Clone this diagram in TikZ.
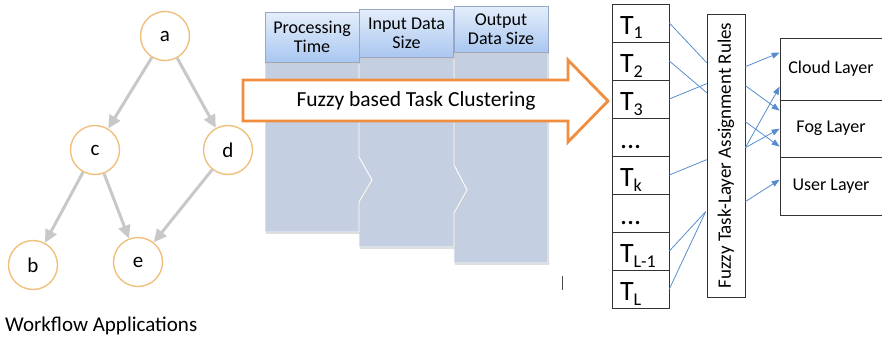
\documentclass[tikz,border=0pt]{standalone}
\usepackage{fontspec}
\setmainfont{Carlito}
\usetikzlibrary{arrows.meta,calc}

\definecolor{ringorange}{RGB}{240,192,125}
\definecolor{edgegray}{RGB}{200,200,200}
\definecolor{bigorange}{RGB}{241,141,62}
\definecolor{colbody}{RGB}{196,207,226}
\definecolor{hdrtop}{RGB}{228,238,251}
\definecolor{hdrbot}{RGB}{170,199,240}
\definecolor{hdrline}{RGB}{150,168,198}
\definecolor{linkblue}{RGB}{88,140,205}
\definecolor{softshadow}{RGB}{205,205,205}

\tikzset{
  task/.style={circle, draw=ringorange, line width=1.4pt, fill=white,
    minimum size=49pt, inner sep=0pt, font=\fontsize{21}{21}\selectfont},
  flow/.style={draw=edgegray, line width=3pt,
    -{Triangle[length=13pt,width=12pt]}},
  softdrop/.style={preaction={fill=softshadow, draw=none,
    transform canvas={shift={(1pt,-1.6pt)}}}},
  colshape/.style={softdrop, fill=colbody, draw=white, line width=0.8pt},
  hdr/.style={softdrop, draw=hdrline, line width=0.5pt, top color=hdrtop,
    bottom color=hdrbot, minimum width=94pt, inner sep=0pt, align=center,
    font=\fontsize{18}{19}\selectfont},
  tcell/.style={draw=black!80, line width=0.7pt, minimum width=57pt, minimum height=38pt,
    text width=41pt, inner xsep=8pt, inner ysep=6pt, text height=24pt, text depth=2pt,
    align=left, font=\fontsize{28}{28}\selectfont},
  layerbox/.style={draw=black!80, line width=0.7pt, minimum width=102pt, inner sep=0pt,
    font=\fontsize{18}{18}\selectfont},
  link/.style={draw=linkblue, line width=0.8pt},
  linkarrow/.style={link, -{Triangle[length=8pt,width=6pt]}},
}
\newcommand{\tsub}[1]{\raisebox{-5pt}{\fontsize{18}{18}\selectfont #1}}

\begin{document}
\begin{tikzpicture}[x=1pt,y=-1pt]
\useasboundingbox (0,0) rectangle (882,340);

% ---- workflow graph ----
\node[task] (a) at (165,36) {a};
\node[task] (c) at (95,150) {c};
\node[task] (d) at (228,150) {d};
\node[task] (b) at (33,265) {b};
\node[task] (e) at (138,262) {e};
\draw[flow] (a) -- (c);
\draw[flow] (a) -- (d);
\draw[flow] (c) -- (b);
\draw[flow] (c) -- (e);
\draw[flow] (d) -- (e);
\node[anchor=base west, inner sep=0pt, font=\fontsize{21}{21}\selectfont]
  (wfa) at (5,331) {Workflow Applications};

% ---- attribute columns ----
\path[colshape] (454,52) -- (548,52) -- (548,263) -- (454,263) -- (454,213)
  -- (467,190) -- (454,165) -- cycle;
\path[colshape] (359,57) -- (454,57) -- (454,165) -- (467,190) -- (454,213)
  -- (454,247) -- (359,247) -- (359,202) -- (372,180) -- (359,157) -- cycle;
\path[colshape] (265,62) -- (359,62) -- (359,157) -- (372,180) -- (359,202)
  -- (359,232) -- (265,232) -- cycle;
\node[hdr, minimum height=50pt] (h1) at (312,37) {Processing\\Time};
\node[hdr, minimum height=48pt] (h2) at (406.5,33) {Input Data\\Size};
\node[hdr, minimum height=46pt] (h3) at (501,29) {Output\\Data Size};

% ---- clustering arrow ----
\draw[bigorange, line width=2.8pt, fill=white, line join=miter]
  (243,80) -- (568,80) -- (568,60) -- (608,101) -- (568,142) -- (568,121)
  -- (243,121) -- cycle;
\node[font=\fontsize{21.5}{21.5}\selectfont] (cluster) at (416,101)
  {Fuzzy based Task Clustering};

% small text cursor mark
\draw[black!70, line width=0.9pt] (562,276) -- (562,290);

% ---- task list ----
\node[tcell] (t1)  at (640.5,23)  {T\tsub{1}};
\node[tcell] (t2)  at (640.5,61)  {T\tsub{2}};
\node[tcell] (t3)  at (640.5,99)  {T\tsub{3}};
\node[tcell] (td1) at (640.5,137) {...};
\node[tcell] (tk)  at (640.5,175) {T\tsub{k}};
\node[tcell] (td2) at (640.5,213) {...};
\node[tcell] (tl1) at (640.5,251) {T\tsub{L-1}};
\node[tcell] (tl)  at (640.5,289) {T\tsub{L}};

% ---- assignment rules (rotated: north east is the top-left corner) ----
\node[draw=black!80, line width=0.7pt, rotate=90, minimum width=283pt,
  minimum height=38pt, inner sep=0pt, font=\fontsize{19}{19}\selectfont]
  (rules) at (726,155.5) {Fuzzy Task-Layer Assignment Rules};

% ---- layers ----
\node[layerbox, minimum height=62pt] (cloud) at (831,69)    {Cloud Layer};
\node[layerbox, minimum height=57pt] (fog)   at (831,128.5) {Fog Layer};
\node[layerbox, minimum height=58pt] (user)  at (831,186)   {User Layer};

% ---- tasks to rules ----
\coordinate (r1) at ($(rules.north east)+(0,49)$);
\coordinate (r2) at ($(rules.north east)+(0,79)$);
\coordinate (r3) at ($(rules.north east)+(0,70)$);
\coordinate (r4) at ($(rules.north east)+(0,146)$);
\coordinate (r5) at ($(rules.north east)+(-1,198)$);
\draw[link] (t1.east) -- (r1);
\draw[link] (t2.east) -- (r2);
\draw[link] (t3.east) -- (r3);
\draw[link] (tk.east) -- (r4);
\draw[link] (tl1.east) -- (r5);
\draw[link] (tl.east) -- (r5);

% ---- rules to layers ----
\coordinate (o1) at ($(rules.south east)+(0,53)$);
\coordinate (o2) at ($(rules.south east)+(0,72)$);
\coordinate (o3) at ($(rules.south east)+(0,108)$);
\coordinate (o4) at ($(rules.south east)+(0,134)$);
\coordinate (o5) at ($(rules.south east)+(0,188)$);
\draw[linkarrow] (o1) -- ($(cloud.north west)+(0,15)$);
\draw[linkarrow] (o2) -- ($(fog.north west)+(0,11)$);
\draw[linkarrow] (o3) -- ($(fog.north west)+(0,47)$);
\draw[linkarrow] (o4) -- ($(cloud.north west)+(0,49)$);
\draw[linkarrow] (o4) -- ($(fog.north west)+(0,29)$);
\draw[linkarrow] (o5) -- ($(user.north west)+(0,23)$);
\end{tikzpicture}
\end{document}
